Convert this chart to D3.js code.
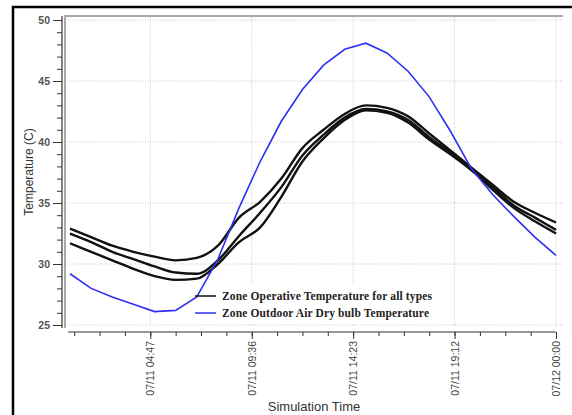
<!DOCTYPE html>
<html>
<head>
<meta charset="utf-8">
<script src="https://cdn.jsdelivr.net/npm/d3@7"></script>
<style>
  body { margin: 0; background: #fff; }
  svg { display: block; }
</style>
</head>
<body>
<svg id="chart" width="572" height="415"></svg>
<script>
// hourly simulation time (hours after 07/11 00:00)
const hours = d3.range(1, 25);

// three zone operative temperature curves (C)
const zoneA = [32.9, 32.2, 31.5, 31.0, 30.6, 30.3, 30.5, 31.5, 33.8, 35.1, 37.0, 39.5,
  41.0, 42.3, 43.0, 42.8, 42.1, 40.7, 39.3, 37.9, 36.5, 35.1, 34.2, 33.4];
const zoneB = [32.5, 31.8, 31.0, 30.4, 29.8, 29.3, 29.2, 30.3, 32.3, 34.2, 36.3, 38.9,
  40.6, 42.0, 42.7, 42.5, 41.8, 40.4, 39.1, 37.7, 36.3, 34.8, 33.8, 32.8];
const zoneC = [31.7, 31.0, 30.3, 29.6, 29.0, 28.7, 28.8, 30.0, 31.8, 33.0, 35.5, 38.4,
  40.3, 41.8, 42.6, 42.4, 41.6, 40.2, 39.0, 37.7, 36.1, 34.6, 33.5, 32.5];

// outdoor air dry bulb temperature (C)
const outdoor = [29.2, 28.0, 27.3, 26.7, 26.1, 26.2, 27.3, 30.4, 34.6, 38.4, 41.7, 44.3,
  46.3, 47.6, 48.1, 47.3, 45.8, 43.7, 40.9, 37.8, 35.7, 33.9, 32.2, 30.7];

const xTickHours = [4.8, 9.6, 14.4, 19.2, 24];
const xTickLabels = ["07/11 04:47", "07/11 09:36", "07/11 14:23", "07/11 19:12", "07/12 00:00"];
const yTicks = [25, 30, 35, 40, 45, 50];

const legendLabels = ["Zone Operative Temperature for all types",
  "Zone Outdoor Air Dry bulb Temperature"];

const svg = d3.select("#chart");

const x = d3.scaleLinear().domain([1, 24]).range([70, 556]);
const y = d3.scaleLinear().domain([25, 50]).range([325, 20]);

// outer frame
svg.append("rect")
  .attr("x", 13).attr("y", 7)
  .attr("width", 620).attr("height", 450)
  .attr("fill", "none")
  .attr("stroke", "#000")
  .attr("stroke-width", 2.5);

// grid
svg.append("g").selectAll("line")
  .data(yTicks)
  .join("line")
  .attr("x1", 65).attr("x2", 563)
  .attr("y1", d => y(d)).attr("y2", d => y(d))
  .attr("stroke", "#c8c8c8")
  .attr("stroke-dasharray", "1,1.5");

svg.append("g").selectAll("line")
  .data(xTickHours)
  .join("line")
  .attr("x1", d => x(d)).attr("x2", d => x(d))
  .attr("y1", 17).attr("y2", 327)
  .attr("stroke", "#c8c8c8")
  .attr("stroke-dasharray", "1,1.5");

// plot frame (top and left)
svg.append("line")
  .attr("x1", 64).attr("x2", 563).attr("y1", 16).attr("y2", 16)
  .attr("stroke", "#aaa").attr("stroke-width", 2);
svg.append("line")
  .attr("x1", 65).attr("x2", 65).attr("y1", 16).attr("y2", 328)
  .attr("stroke", "#aaa").attr("stroke-width", 2);

// y axis
const yAxisG = svg.append("g").attr("transform", "translate(62,0)");
yAxisG.append("g")
  .call(d3.axisLeft(y).tickValues(d3.range(25, 50.5, 1)).tickSize(5).tickFormat(""))
  .call(g => g.select(".domain").remove());
yAxisG.append("g")
  .call(d3.axisLeft(y).tickValues(yTicks).tickSize(9).tickPadding(3))
  .call(g => g.select(".domain").remove())
  .call(g => g.selectAll("text")
    .style("font-family", "'Liberation Sans', Arial, sans-serif")
    .style("font-size", "10.5px")
    .style("font-weight", "bold")
    .attr("fill", "#555"));
yAxisG.selectAll("line").attr("stroke", "#333");
yAxisG.append("line")
  .attr("x1", 0).attr("x2", 0).attr("y1", 16).attr("y2", 328)
  .attr("stroke", "#333").attr("stroke-width", 1.2);

// x axis
const xAxisG = svg.append("g").attr("transform", "translate(0,332)");
xAxisG.append("g")
  .call(d3.axisBottom(x).tickValues(d3.range(1.2, 24.01, 1.2)).tickSize(4).tickFormat(""))
  .call(g => g.select(".domain").remove());
xAxisG.append("g")
  .call(d3.axisBottom(x).tickValues(xTickHours).tickSize(7)
    .tickFormat((d, i) => xTickLabels[i]))
  .call(g => g.select(".domain").remove())
  .call(g => g.selectAll("text")
    .attr("transform", "rotate(-90)")
    .attr("text-anchor", "end")
    .attr("x", -9)
    .attr("y", 0)
    .attr("dy", "0.35em")
    .style("font-family", "'Liberation Sans', Arial, sans-serif")
    .style("font-size", "10.5px")
    .attr("fill", "#444"));
xAxisG.selectAll("line").attr("stroke", "#333");
xAxisG.append("line")
  .attr("x1", 68).attr("x2", 556).attr("y1", 0).attr("y2", 0)
  .attr("stroke", "#333").attr("stroke-width", 1.2);

// axis titles
svg.append("text")
  .attr("transform", "translate(33,172) rotate(-90)")
  .attr("text-anchor", "middle")
  .style("font-family", "'Liberation Sans', Arial, sans-serif")
  .style("font-size", "12px")
  .attr("fill", "#333")
  .text("Temperature (C)");

svg.append("text")
  .attr("x", 314).attr("y", 411)
  .attr("text-anchor", "middle")
  .style("font-family", "'Liberation Sans', Arial, sans-serif")
  .style("font-size", "13px")
  .attr("fill", "#333")
  .text("Simulation Time");

// legend box (white, hides grid behind it)
svg.append("rect")
  .attr("x", 190).attr("y", 283).attr("width", 246).attr("height", 40)
  .attr("fill", "#fff");

// lines
const smooth = d3.line()
  .x((d, i) => x(hours[i]))
  .y(d => y(d))
  .curve(d3.curveMonotoneX);

[zoneA, zoneB, zoneC].forEach(series => {
  svg.append("path")
    .datum(series)
    .attr("fill", "none")
    .attr("stroke", "#111")
    .attr("stroke-width", 2.4)
    .attr("d", smooth);
});

const straight = d3.line()
  .x((d, i) => x(hours[i]))
  .y(d => y(d));

svg.append("path")
  .datum(outdoor)
  .attr("fill", "none")
  .attr("stroke", "#2f2ff2")
  .attr("stroke-width", 1.6)
  .attr("d", straight);

// legend
const legend = svg.append("g");
const legendColors = ["#111", "#2f2ff2"];
legendLabels.forEach((label, i) => {
  const ly = 296 + i * 17;
  legend.append("line")
    .attr("x1", 195).attr("x2", 216)
    .attr("y1", ly).attr("y2", ly)
    .attr("stroke", legendColors[i])
    .attr("stroke-width", 1.5);
  legend.append("text")
    .attr("x", 222).attr("y", ly + 4)
    .attr("textLength", i === 0 ? 210 : 207)
    .attr("lengthAdjust", "spacing")
    .style("font-family", "'Liberation Serif', 'Times New Roman', serif")
    .style("font-size", "11.5px")
    .style("font-weight", "bold")
    .attr("fill", "#222")
    .text(label);
});
</script>
</body>
</html>
